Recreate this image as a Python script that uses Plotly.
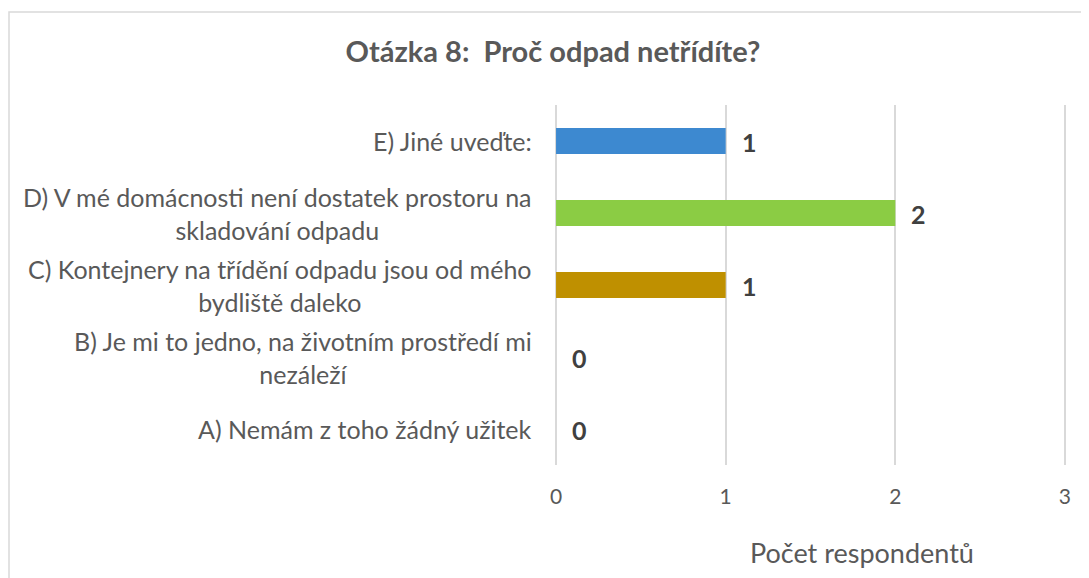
import plotly.graph_objects as go

categories = [
    "A) Nemám z toho žádný užitek",
    "B) Je mi to jedno, na životním prostředí mi<br>nezáleží",
    "C) Kontejnery na třídění odpadu jsou od mého<br>bydliště daleko",
    "D) V mé domácnosti není dostatek prostoru na<br>skladování odpadu",
    "E) Jiné uveďte:",
]
values = [0, 0, 1, 2, 1]
colors = ["#4472C4", "#ED7D31", "#BF9000", "#8BCC44", "#3D89D0"]
x_ticks = [0, 1, 2, 3]

title_text = "Otázka 8:  Proč odpad netřídíte?"
x_title = "Počet respondentů"

FONT = "Lato"
GREY = "#595959"

# page body has an 8px margin; figure coords = screen coords - 8
W, H = 1081, 570
L, R, T, B = 546, 22, 97, 113
pw = W - L - R
ph = H - T - B
PAD = 0.012


def px_x(sx):
    return (sx - 8 - L) / pw


def px_y(sy):
    return 1 - (sy - 8 - T) / ph


fig = go.Figure()
fig.add_trace(go.Bar(
    y=categories,
    x=values,
    orientation="h",
    marker=dict(color=colors, line=dict(width=0)),
    width=0.36,
    hoverinfo="skip",
))

annotations = []
for c in categories:
    annotations.append(dict(
        x=0, xref="x", y=c, yref="y",
        text=c, showarrow=False,
        xanchor="right", yanchor="middle", align="center",
        xshift=-22,
        font=dict(family=FONT, size=25, color=GREY),
    ))
for c, v in zip(categories, values):
    annotations.append(dict(
        x=v, xref="x", y=c, yref="y",
        text="<b>%d</b>" % v, showarrow=False,
        xanchor="left", yanchor="middle", xshift=14, yshift=-1,
        font=dict(family=FONT, size=25, color="#404040"),
    ))
annotations.append(dict(
    x=px_x(862), xref="paper", y=px_y(552), yref="paper", text=x_title,
    showarrow=False, xanchor="center", yanchor="middle",
    font=dict(family=FONT, size=27, color=GREY),
))

fig.update_layout(
    width=W, height=H,
    paper_bgcolor="white", plot_bgcolor="white",
    margin=dict(l=L, r=R, t=T, b=B),
    showlegend=False,
    title=dict(
        text="<b>" + title_text + "</b>",
        x=(553 - 8) / W, xanchor="center", y=1 - (52 - 8) / H, yanchor="middle",
        font=dict(family=FONT, size=29, color=GREY),
    ),
    xaxis=dict(
        range=[-PAD, 3 + PAD], tickvals=x_ticks, ticktext=[str(t) for t in x_ticks],
        showgrid=True, gridcolor="#D9D9D9", gridwidth=1.5,
        zeroline=False, showline=False, ticks="",
        tickfont=dict(family=FONT, size=21, color=GREY),
        ticklabelstandoff=17,
    ),
    yaxis=dict(
        categoryorder="array", categoryarray=categories,
        showticklabels=False, showgrid=False, zeroline=False,
        showline=False, ticks="",
    ),
    annotations=annotations,
    shapes=[dict(
        type="rect", xref="paper", yref="paper",
        x0=px_x(9), x1=px_x(1100), y0=px_y(600), y1=px_y(12),
        line=dict(color="#D9D9D9", width=1.5),
    )],
)

fig.write_html("out.html")
